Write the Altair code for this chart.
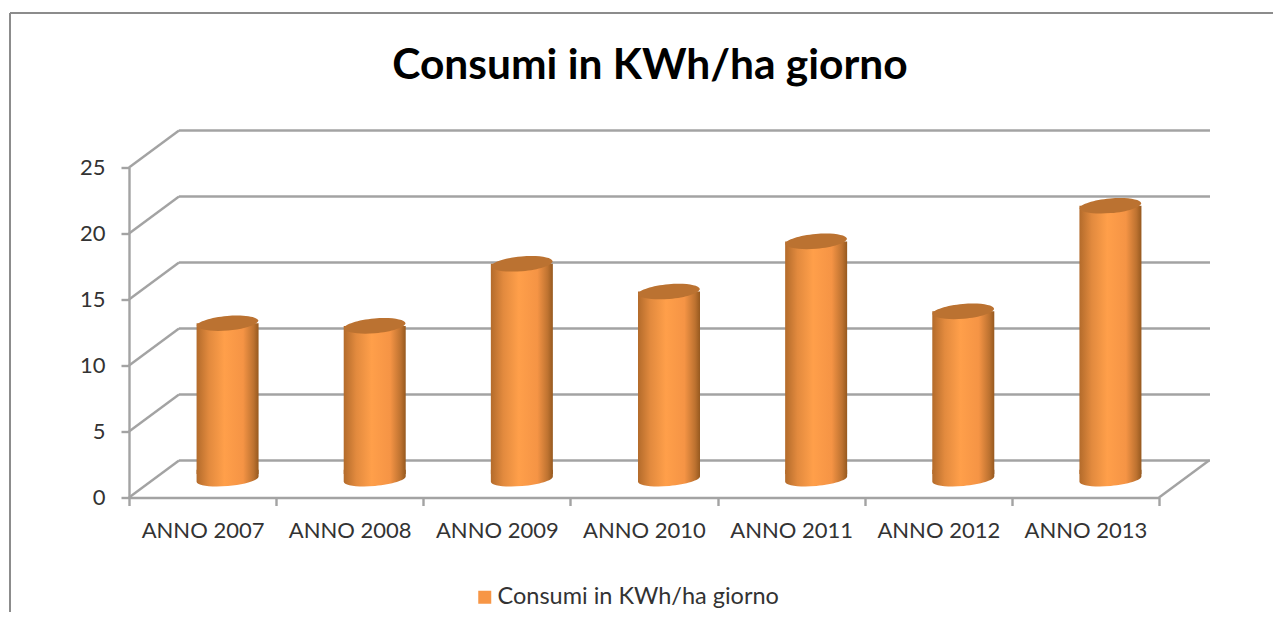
import altair as alt
import pandas as pd

TITLE = "Consumi in KWh/ha giorno"
years = ["ANNO 2007", "ANNO 2008", "ANNO 2009", "ANNO 2010", "ANNO 2011", "ANNO 2012", "ANNO 2013"]
values = [11.8, 11.6, 16.3, 14.2, 18.0, 12.7, 20.7]
ticks = [0, 5, 10, 15, 20, 25]
series = [TITLE]

bars = pd.DataFrame({"anno": years, "v": values, "base": [0] * len(years)})
grid = pd.DataFrame({"t": ticks})
floor_corner = pd.DataFrame({"t": [0]})
leg = pd.DataFrame({"serie": series, "anno": years[:1], "t": [0]})

DEPTH_X, DEPTH_Y = 50, 37
W, H = 1030, 330
GREY = "#a3a3a3"
LW = 2.4
TXT = "#333333"
FONT = "Lato"

xs = alt.Scale(type="band", domain=years, paddingInner=0, paddingOuter=0)
ys = alt.Scale(domain=[0, 25], nice=False)
AX = alt.Axis(domain=True, domainColor=GREY, domainWidth=LW, ticks=True, tickColor=GREY,
              tickWidth=LW, tickSize=8, tickBand="extent", labelAngle=0, labelFont=FONT,
              labelFontSize=22, labelColor=TXT, labelPadding=15, grid=False)
AY = alt.Axis(values=ticks, domain=True, domainColor=GREY, domainWidth=LW, ticks=True,
              tickColor=GREY, tickWidth=LW, tickSize=8, labelFont=FONT, labelFontSize=22,
              labelColor=TXT, labelPadding=16, grid=False)
X = alt.X("anno:N", scale=xs, title=None, axis=AX)
Y = alt.Y("v:Q", scale=ys, title=None, axis=AY)
Y0 = alt.Y("base:Q", scale=ys, title=None, axis=AY)
YT = alt.Y("t:Q", scale=ys, title=None, axis=AY)

body = alt.Gradient(
    gradient="linear", x1=0, x2=1, y1=0, y2=0,
    stops=[
        alt.GradientStop(offset=0, color="#b36b2b"),
        alt.GradientStop(offset=0.2, color="#e28a3e"),
        alt.GradientStop(offset=0.45, color="#ff9f4a"),
        alt.GradientStop(offset=0.75, color="#f59445"),
        alt.GradientStop(offset=0.92, color="#bd7230"),
        alt.GradientStop(offset=1, color="#96591f"),
    ],
)
ELLIPSE = "M-0.995,0.085 A1,0.25,-5,0,1,0.995,-0.085 A1,0.25,-5,0,1,-0.995,0.085 Z"
CUP = "M-1,-0.3 L-1,0.085 A1,0.225,-5,0,0,1,-0.085 L1,-0.3 Z"

back = alt.Chart(grid).mark_rule(color=GREY, strokeWidth=LW, yOffset=-DEPTH_Y).encode(
    x=alt.value(DEPTH_X), x2=alt.value(W + DEPTH_X + 1), y=YT
)
side = alt.Chart(grid).mark_rule(color=GREY, strokeWidth=LW, y2Offset=-DEPTH_Y).encode(
    x=alt.value(0), x2=alt.value(DEPTH_X), y=YT, y2=alt.Y2("t:Q"),
)
side_right = alt.Chart(floor_corner).mark_rule(color=GREY, strokeWidth=LW, y2Offset=-DEPTH_Y).encode(
    x=alt.value(W), x2=alt.value(W + DEPTH_X), y=YT, y2=alt.Y2("t:Q"),
)
frame_top = alt.Chart(grid).mark_rule(color="#8c8c8c", strokeWidth=2).encode(
    x=alt.value(-119), x2=alt.value(1152), y=alt.value(-154.5)
)
frame_left = alt.Chart(grid).mark_rule(color="#8c8c8c", strokeWidth=2).encode(
    x=alt.value(-119), y=alt.value(-154.5), y2=alt.value(460)
)

base_ell = alt.Chart(bars).mark_point(
    shape=CUP, size=3844, filled=True, fill=body, opacity=1, strokeWidth=0, xOffset=25, yOffset=-18.5
).encode(x=X, y=Y0)
cyl = alt.Chart(bars).mark_bar(size=62, fill=body, xOffset=25, yOffset=-18.5, y2Offset=-23.5).encode(
    x=X, y=Y, y2=alt.Y2("base:Q")
)
top_ell = alt.Chart(bars).mark_point(
    shape=ELLIPSE, size=3844, filled=True, fill="#bb7231", opacity=1, strokeWidth=0, xOffset=25, yOffset=-18.5
).encode(x=X, y=Y)

legend_layer = alt.Chart(leg).mark_point(opacity=0, filled=True, shape="square").encode(
    x=X, y=YT,
    color=alt.Color("serie:N", scale=alt.Scale(domain=series, range=["#f79646"]), title=None,
                    legend=alt.Legend(orient="none", legendX=344, legendY=418, symbolType="square",
                                      symbolSize=169, symbolOpacity=1, symbolStrokeWidth=0, labelFont=FONT,
                                      labelFontSize=23.5, labelColor=TXT, padding=0, labelLimit=400,
                                      labelOffset=1)),
)

chart = (
    alt.layer(back, side, side_right, frame_top, frame_left, base_ell, cyl, top_ell, legend_layer)
    .properties(
        width=W, height=H,
        title=alt.TitleParams(TITLE, font=FONT, fontSize=42.5, fontWeight="bold", color="#000000",
                              anchor="middle", frame="group", dx=6, offset=-75),
        autosize=alt.AutoSizeParams(type="none"),
        padding={"left": 121, "top": 159.5, "right": 114, "bottom": 114},
        background="#ffffff",
    )
    .configure_view(stroke=None)
)
chart.save("out.html", embed_options={"renderer": "svg", "actions": False})
